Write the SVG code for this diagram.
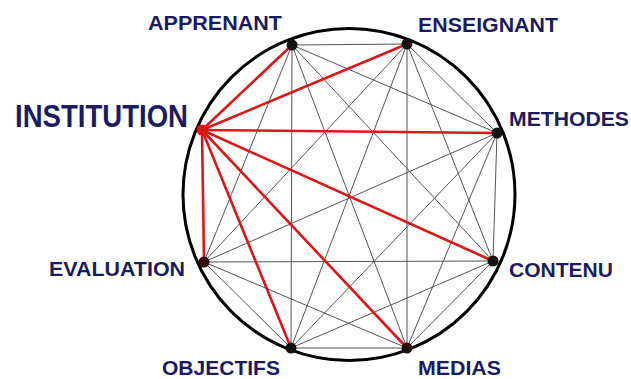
<svg xmlns="http://www.w3.org/2000/svg" width="631" height="379" viewBox="0 0 631 379">
<style>
.lbl{font-family:"Liberation Sans",Arial,sans-serif;font-weight:bold;fill:#1b1b63;font-size:20px}
.g{stroke:#555;stroke-width:1;fill:none}
.r{stroke:#e01515;stroke-width:2.6;fill:none;stroke-linecap:round}
.dot{fill:#111}
</style>
<rect width="631" height="379" fill="#fff"/>
<circle cx="349" cy="194.5" r="166" fill="none" stroke="#000" stroke-width="3"/>
<g id="connectors">
<g class="g">
<line x1="292" y1="45" x2="407" y2="44"/>
<line x1="292" y1="45" x2="497" y2="133"/>
<line x1="292" y1="45" x2="493" y2="261"/>
<line x1="292" y1="45" x2="204" y2="262"/>
<line x1="292" y1="45" x2="291" y2="348"/>
<line x1="292" y1="45" x2="407" y2="348"/>
<line x1="407" y1="44" x2="497" y2="133"/>
<line x1="407" y1="44" x2="493" y2="261"/>
<line x1="407" y1="44" x2="204" y2="262"/>
<line x1="407" y1="44" x2="291" y2="348"/>
<line x1="407" y1="44" x2="407" y2="348"/>
<line x1="497" y1="133" x2="493" y2="261"/>
<line x1="497" y1="133" x2="204" y2="262"/>
<line x1="497" y1="133" x2="291" y2="348"/>
<line x1="497" y1="133" x2="407" y2="348"/>
<line x1="493" y1="261" x2="204" y2="262"/>
<line x1="493" y1="261" x2="291" y2="348"/>
<line x1="493" y1="261" x2="407" y2="348"/>
<line x1="204" y1="262" x2="291" y2="348"/>
<line x1="204" y1="262" x2="407" y2="348"/>
<line x1="291" y1="348" x2="407" y2="348"/>
</g>
<g class="r">
<line x1="202" y1="130" x2="292" y2="45"/>
<line x1="202" y1="130" x2="407" y2="44"/>
<line x1="202" y1="130" x2="497" y2="133"/>
<line x1="202" y1="130" x2="493" y2="261"/>
<line x1="202" y1="130" x2="204" y2="262"/>
<line x1="202" y1="130" x2="291" y2="348"/>
<line x1="202" y1="130" x2="407" y2="348"/>
</g>
</g>
<g id="n-institution"><circle cx="202" cy="130" r="5.5" fill="#e01515"/><text class="lbl" x="15" y="127" style="font-size:31px" textLength="173" lengthAdjust="spacingAndGlyphs">INSTITUTION</text></g>
<g id="n-apprenant"><circle class="dot" cx="292" cy="45" r="5.5"/><text class="lbl" x="148" y="29.5" textLength="134" lengthAdjust="spacingAndGlyphs">APPRENANT</text></g>
<g id="n-enseignant"><circle class="dot" cx="407" cy="44" r="5.5"/><text class="lbl" x="418" y="31.5" textLength="140" lengthAdjust="spacingAndGlyphs">ENSEIGNANT</text></g>
<g id="n-methodes"><circle class="dot" cx="497" cy="133" r="5.5"/><text class="lbl" x="509" y="126" textLength="120" lengthAdjust="spacingAndGlyphs">METHODES</text></g>
<g id="n-contenu"><circle class="dot" cx="493" cy="261" r="5.5"/><text class="lbl" x="509" y="277" textLength="104" lengthAdjust="spacingAndGlyphs">CONTENU</text></g>
<g id="n-evaluation"><circle cx="204" cy="262" r="5.5" fill="#3a0a0a"/><text class="lbl" x="49" y="276" textLength="136" lengthAdjust="spacingAndGlyphs">EVALUATION</text></g>
<g id="n-objectifs"><circle class="dot" cx="291" cy="348" r="5.5"/><text class="lbl" x="162" y="375" textLength="118" lengthAdjust="spacingAndGlyphs">OBJECTIFS</text></g>
<g id="n-medias"><circle cx="407" cy="348" r="5.5" fill="#2a0808"/><text class="lbl" x="418" y="375" textLength="83" lengthAdjust="spacingAndGlyphs">MEDIAS</text></g>
</svg>
